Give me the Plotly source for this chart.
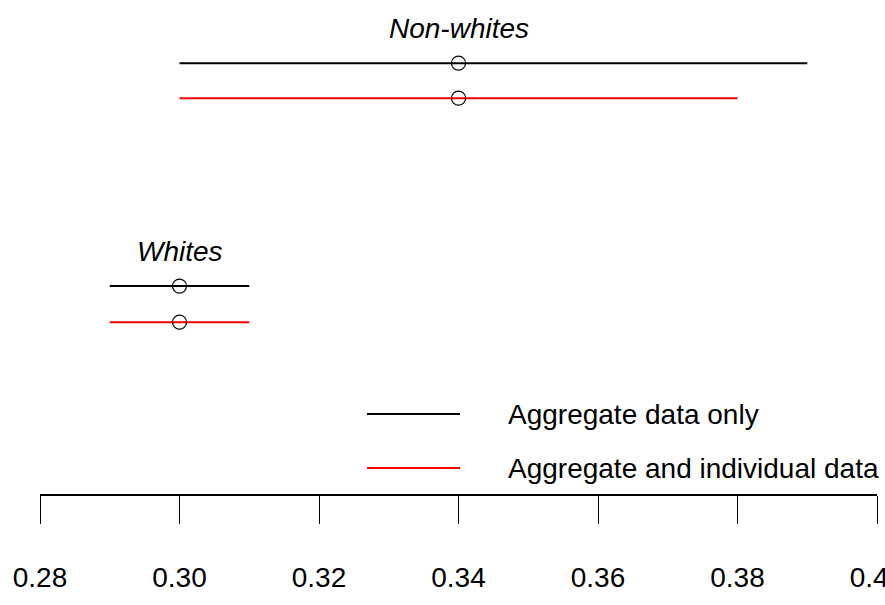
import plotly.graph_objects as go

# Data
groups = ["Non-whites", "Whites"]
est_aggregate = [0.34, 0.30]
low_aggregate = [0.30, 0.29]
high_aggregate = [0.39, 0.31]
est_combined = [0.34, 0.30]
low_combined = [0.30, 0.29]
high_combined = [0.38, 0.31]
tick_vals = [0.28, 0.30, 0.32, 0.34, 0.36, 0.38, 0.40]
tick_text = ["0.28", "0.30", "0.32", "0.34", "0.36", "0.38", "0.40"]
series_names = ["Aggregate data only", "Aggregate and individual data"]

# row positions (layout, not data)
row_agg = [12.31, 5.94]
row_comb = [11.31, 4.91]
label_row = [13.31, 6.94]

FONT = "Liberation Sans Narrow, Arial Narrow, Liberation Sans, Arial, sans-serif"
FS = 28

fig = go.Figure()
for i, g in enumerate(groups):
    fig.add_trace(go.Scatter(x=[low_aggregate[i], high_aggregate[i]], y=[row_agg[i]] * 2,
                             mode="lines", line=dict(color="black", width=2), showlegend=False))
    fig.add_trace(go.Scatter(x=[low_combined[i], high_combined[i]], y=[row_comb[i]] * 2,
                             mode="lines", line=dict(color="#ff0000", width=2), showlegend=False))
    fig.add_trace(go.Scatter(x=[est_aggregate[i], est_combined[i]], y=[row_agg[i], row_comb[i]],
                             mode="markers",
                             marker=dict(symbol="circle-open", size=14, color="black",
                                         line=dict(width=1.2, color="black")),
                             showlegend=False))
    fig.add_annotation(x=est_aggregate[i], y=label_row[i], text=g, showarrow=False,
                       font=dict(family=FONT, size=FS, color="black", style="italic"),
                       xanchor="center", yanchor="middle")

# manual legend
leg_y = [414, 468]
leg_colors = ["black", "#ff0000"]
for yy, c, name in zip(leg_y, leg_colors, series_names):
    yp = 1 - yy / 494
    fig.add_shape(type="line", xref="paper", yref="paper",
                  x0=(367 - 40) / 837, x1=(460 - 40) / 837, y0=yp, y1=yp,
                  line=dict(color=c, width=2))
    fig.add_annotation(xref="paper", yref="paper", x=(506 - 40) / 837, y=yp, text=name,
                       showarrow=False, xanchor="left", yanchor="middle",
                       font=dict(family=FONT, size=FS, color="black"))

fig.update_layout(
    width=885, height=605,
    margin=dict(l=40, r=8, t=0, b=111),
    paper_bgcolor="white", plot_bgcolor="white",
    showlegend=False,
    xaxis=dict(range=[0.28, 0.40], tickvals=tick_vals, ticktext=tick_text,
               showgrid=False, zeroline=False, showline=True, linecolor="black", linewidth=1.5,
               ticks="outside", ticklen=28, tickwidth=1, tickcolor="black",
               tickfont=dict(family=FONT, size=FS, color="black"),
               ticklabelstandoff=30, ticklabeloverflow="allow",
               automargin=False, fixedrange=True),
    yaxis=dict(range=[0, 494 / 35], visible=False, fixedrange=True),
)

fig.write_html("out.html", config={"displayModeBar": False},
               post_script="document.body.style.margin='0';document.body.style.overflow='hidden';")
